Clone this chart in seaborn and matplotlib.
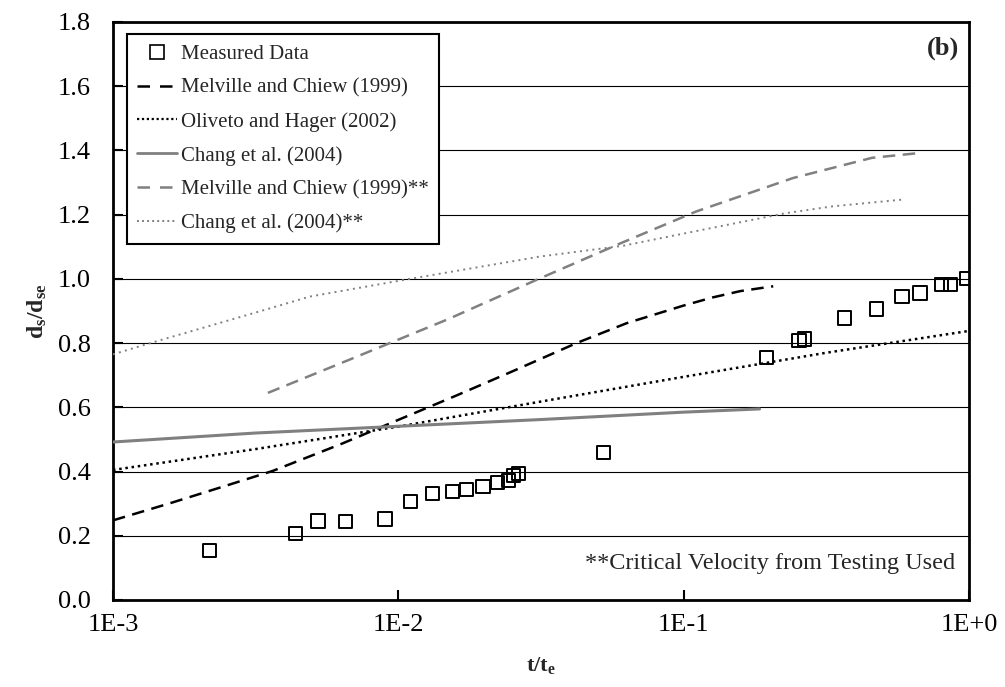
import matplotlib
matplotlib.use("Agg")
import matplotlib.pyplot as plt
from matplotlib.lines import Line2D
import seaborn as sns
import pandas as pd

# ---- data ----
meas_t = [0.00218, 0.00436, 0.00523, 0.00653, 0.00898, 0.0110, 0.0132, 0.0155, 0.0173,
          0.0198, 0.0222, 0.0243, 0.0253, 0.0263, 0.0525, 0.195, 0.2535, 0.2655, 0.365,
          0.474, 0.582, 0.673, 0.80, 0.861, 0.98]
meas_d = [0.155, 0.206, 0.246, 0.245, 0.252, 0.308, 0.332, 0.338, 0.343,
          0.354, 0.366, 0.372, 0.387, 0.395, 0.459, 0.754, 0.807, 0.813, 0.878,
          0.906, 0.946, 0.956, 0.982, 0.983, 1.0]

mc_t = [0.001, 0.00158, 0.00251, 0.00363, 0.00631, 0.01, 0.0158, 0.0251, 0.0421,
        0.0631, 0.1, 0.126, 0.158, 0.206]
mc_d = [0.248, 0.301, 0.357, 0.402, 0.486, 0.561, 0.635, 0.712, 0.80,
        0.862, 0.917, 0.942, 0.962, 0.977]

oh_t = [0.001, 0.00316, 0.01, 0.0316, 0.1, 0.316, 1.0]
oh_d = [0.405, 0.47, 0.54, 0.618, 0.695, 0.77, 0.838]

ch_t = [0.001, 0.00316, 0.01, 0.0316, 0.1, 0.1845]
ch_d = [0.492, 0.52, 0.541, 0.562, 0.585, 0.595]

mc2_t = [0.00349, 0.00631, 0.00933, 0.0148, 0.0305, 0.0605, 0.1107, 0.2415, 0.457, 0.67]
mc2_d = [0.645, 0.738, 0.80, 0.873, 0.997, 1.112, 1.21, 1.314, 1.377, 1.392]

ch2_t = [0.001, 0.00135, 0.00327, 0.0049, 0.01096, 0.0316, 0.0612, 0.126, 0.229, 0.333, 0.586]
ch2_d = [0.765, 0.80, 0.899, 0.945, 1.0, 1.07, 1.103, 1.159, 1.205, 1.226, 1.247]

x_ticks = [0.001, 0.01, 0.1, 1.0]
x_ticklabels = ["1E-3", "1E-2", "1E-1", "1E+0"]
y_ticks = [0.0, 0.2, 0.4, 0.6, 0.8, 1.0, 1.2, 1.4, 1.6, 1.8]

labels = ["Measured Data", "Melville and Chiew (1999)", "Oliveto and Hager (2002)",
          "Chang et al. (2004)", "Melville and Chiew (1999)**", "Chang et al. (2004)**"]

# ---- style ----
sns.set_theme(style="white")
plt.rcParams["font.family"] = ["Liberation Serif", "DejaVu Serif"]
plt.rcParams["mathtext.fontset"] = "custom"
plt.rcParams["mathtext.rm"] = "Liberation Serif"
plt.rcParams["mathtext.bf"] = "Liberation Serif:bold"
plt.rcParams["mathtext.it"] = "Liberation Serif:italic"

fig = plt.figure(figsize=(10.05, 6.87), dpi=100)
ax = fig.add_axes([113 / 1005, 1 - 600 / 687, (969 - 113) / 1005, (600 - 22) / 687])
ax.set_xscale("log")

grey = "#808080"
line_specs = [
    (mc_t, mc_d, dict(color="black", lw=1.8, ls=(0, (5, 3)))),
    (oh_t, oh_d, dict(color="black", lw=1.8, ls=(0, (1, 1.5)))),
    (ch_t, ch_d, dict(color=grey, lw=2.2, ls="-")),
    (mc2_t, mc2_d, dict(color=grey, lw=1.8, ls=(0, (5, 3)))),
    (ch2_t, ch2_d, dict(color=grey, lw=1.4, ls=(0, (1, 2.2)))),
]
for t, d, kw in line_specs:
    df = pd.DataFrame({"t": t, "d": d})
    sns.lineplot(data=df, x="t", y="d", ax=ax, estimator=None, sort=False,
                 color=kw["color"], linewidth=kw["lw"], linestyle=kw["ls"], zorder=3)

dfm = pd.DataFrame({"t": meas_t, "d": meas_d})
sns.scatterplot(data=dfm, x="t", y="d", ax=ax, marker="s", s=90,
                facecolor="none", edgecolor="black", linewidth=1.4, zorder=4)

ax.set_xlim(0.001, 1.0)
ax.set_ylim(0, 1.8)
ax.set_xticks(x_ticks)
ax.set_xticklabels(x_ticklabels)
ax.minorticks_off()
ax.set_yticks(y_ticks)
ax.set_yticklabels([f"{v:.1f}" for v in y_ticks])
ax.tick_params(axis="both", direction="in", length=7, width=1.5, labelsize=19,
               colors="black", bottom=True, left=True)
ax.tick_params(axis="x", pad=10)
ax.tick_params(axis="y", pad=16)
ax.yaxis.grid(True, color="black", linewidth=0.8)
ax.xaxis.grid(False)
ax.set_axisbelow(True)
for sp in ax.spines.values():
    sp.set_visible(True)
    sp.set_color("black")
    sp.set_linewidth(2.0)

ax.set_xlabel(r"$\mathbf{t/t_e}$", fontsize=16, labelpad=14)
ax.set_ylabel(r"$\mathbf{d_s/d_{se}}$", fontsize=17, labelpad=6)

ax.text(0.988, 0.955, "(b)", transform=ax.transAxes, ha="right", va="center",
        fontsize=19, fontweight="bold")
ax.text(0.984, 0.064, "**Critical Velocity from Testing Used", transform=ax.transAxes,
        ha="right", va="center", fontsize=17.5)

handles = [
    Line2D([], [], marker="s", ls="none", markersize=9.5, markerfacecolor="none",
           markeredgecolor="black", markeredgewidth=1.2),
    Line2D([], [], color="black", lw=1.8, ls=(0, (5, 4))),
    Line2D([], [], color="black", lw=1.6, ls=(0, (1, 1.2))),
    Line2D([], [], color=grey, lw=2.0, ls="-"),
    Line2D([], [], color=grey, lw=1.8, ls=(0, (5, 4))),
    Line2D([], [], color=grey, lw=1.4, ls=(0, (1, 1.6))),
]
leg = ax.legend(handles, labels, loc="upper left", bbox_to_anchor=(0.0164, 0.979),
                fontsize=15, frameon=True, fancybox=False, framealpha=1,
                edgecolor="black", handlelength=1.9, handletextpad=0.2,
                labelspacing=0.68, borderpad=0.5, borderaxespad=0)
leg.get_frame().set_linewidth(1.5)
leg.set_zorder(10)

fig.savefig("out.png", dpi=100)
